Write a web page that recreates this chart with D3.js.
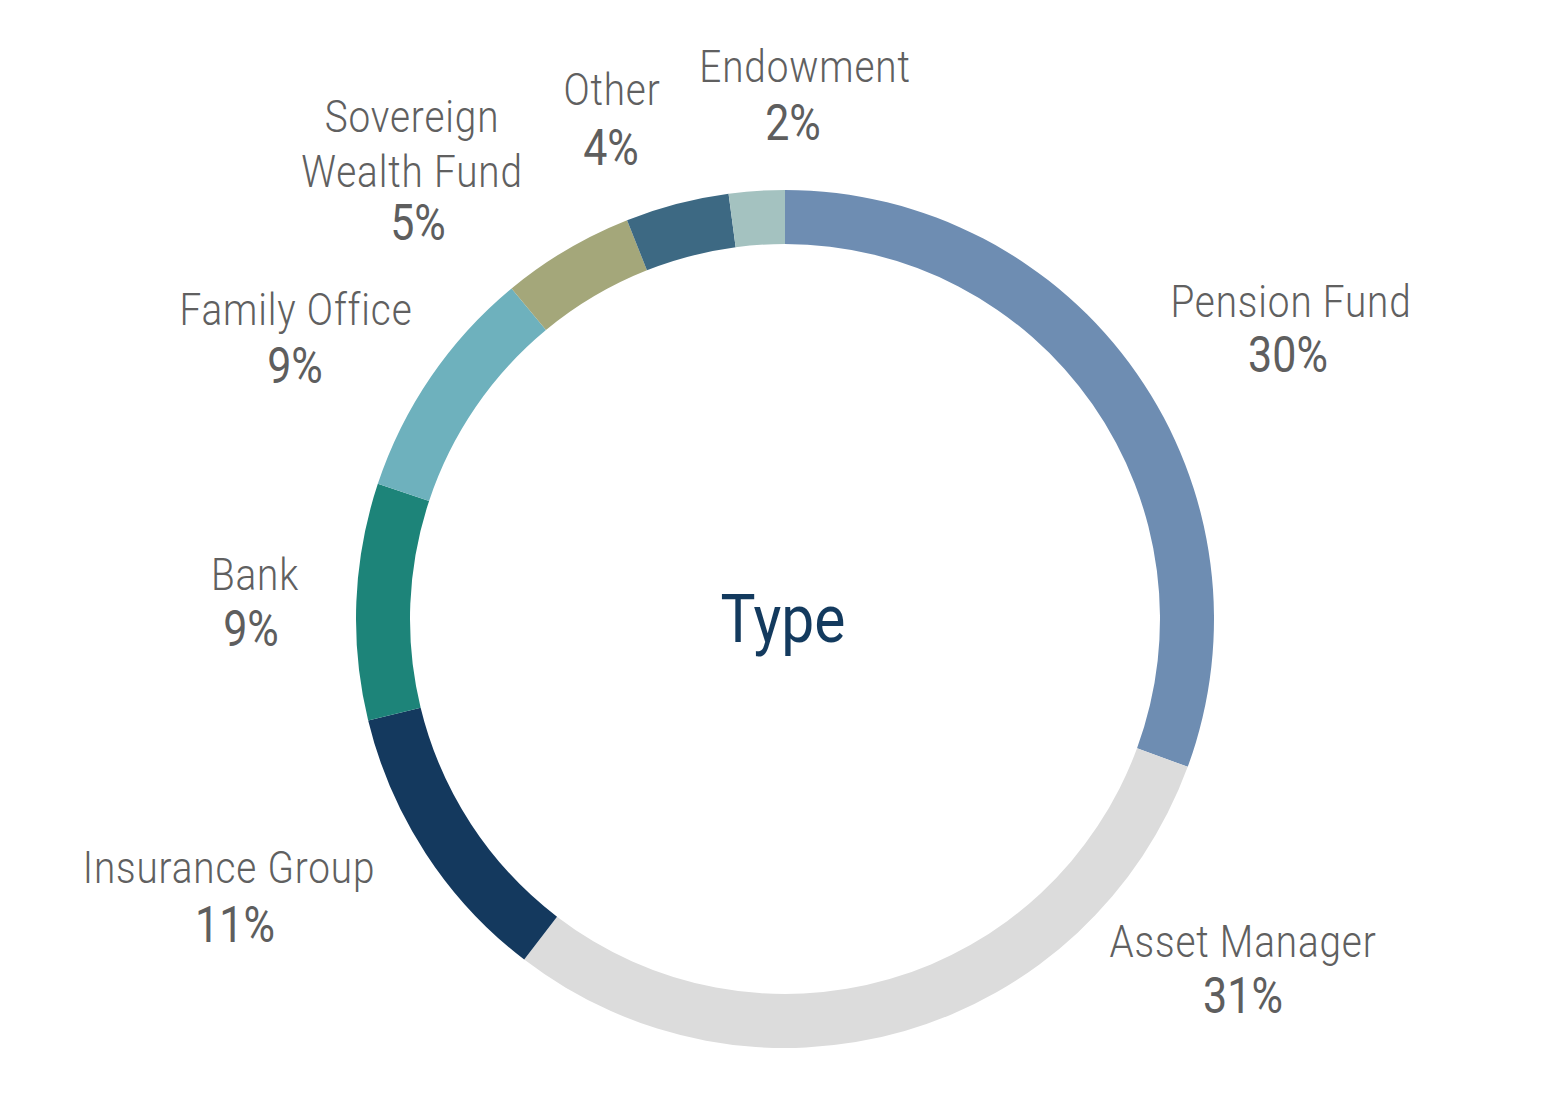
<!DOCTYPE html>
<html>
<head>
<meta charset="utf-8">
<script src="https://cdn.jsdelivr.net/npm/d3@7"></script>
<style>
  html, body { margin: 0; padding: 0; background: #ffffff; }
  svg { display: block; }
</style>
</head>
<body>
<svg id="chart" width="1563" height="1094"></svg>
<script>
// ---- data ----
const categories = ["Pension Fund", "Asset Manager", "Insurance Group", "Bank", "Family Office", "Sovereign\nWealth Fund", "Other", "Endowment"];
const values = [30.6, 29.8, 10.8, 8.9, 8.9, 5.0, 3.9, 2.1];
const pctLabels = ["30%", "31%", "11%", "9%", "9%", "5%", "4%", "2%"];
const colors = ["#6e8db2", "#dcdcdc", "#14395e", "#1d8479", "#6eb1bd", "#a4a77a", "#3d6983", "#a4c2c0"];
const centerTitle = "Type";

// ---- layout (label anchors, not data) ----
const nameX = [1291, 1243, 229, 255, 296, 412, 612, 805];
const nameY = [317, 957, 883, 590, 325, 132, 105, 82];
const pctX  = [1288, 1243, 235, 251, 295, 418, 611, 793];
const pctY  = [372, 1013, 942, 646, 383, 240, 165, 140];

const W = 1563, H = 1094;
const cx = 785, cy = 619;
const outerR = 429, innerR = 375;
const sx = 0.86;
const fontFam = "Roboto, 'Liberation Sans', Arial, sans-serif";

const svg = d3.select("#chart");

const pie = d3.pie().sort(null).value(d => d.value).startAngle(0).endAngle(2 * Math.PI);
const arc = d3.arc().innerRadius(innerR).outerRadius(outerR);
const data = categories.map((c, i) => ({ name: c, value: values[i], color: colors[i], pct: pctLabels[i], i }));

const g = svg.append("g").attr("transform", `translate(${cx},${cy})`);
g.selectAll("path.slice")
  .data(pie(data))
  .join("path")
  .attr("class", "slice")
  .attr("d", arc)
  .attr("fill", d => d.data.color);

// center title
svg.append("text")
  .attr("transform", `translate(${cx - 2},${cy + 23}) scale(0.89,1)`)
  .attr("text-anchor", "middle")
  .attr("font-family", fontFam)
  .attr("font-size", 66)
  .attr("fill", "#133a5e")
  .text(centerTitle);

// labels
const lg = svg.append("g");
data.forEach((d, i) => {
  const lines = d.name.split("\n");
  lines.forEach((ln, k) => {
    lg.append("text")
      .attr("transform", `translate(${nameX[i]},${nameY[i] + k * 55}) scale(${sx},1)`)
      .attr("text-anchor", "middle")
      .attr("font-family", fontFam)
      .attr("font-weight", 300)
      .attr("font-size", 45)
      .attr("letter-spacing", 1)
      .attr("fill", "#606060")
      .text(ln);
  });
  lg.append("text")
    .attr("transform", `translate(${pctX[i]},${pctY[i]}) scale(0.86,1)`)
    .attr("text-anchor", "middle")
    .attr("font-family", fontFam)
    .attr("font-weight", 400)
    .attr("font-size", 50)
    .attr("fill", "#5e5e5e")
    .text(d.pct);
});
</script>
</body>
</html>
